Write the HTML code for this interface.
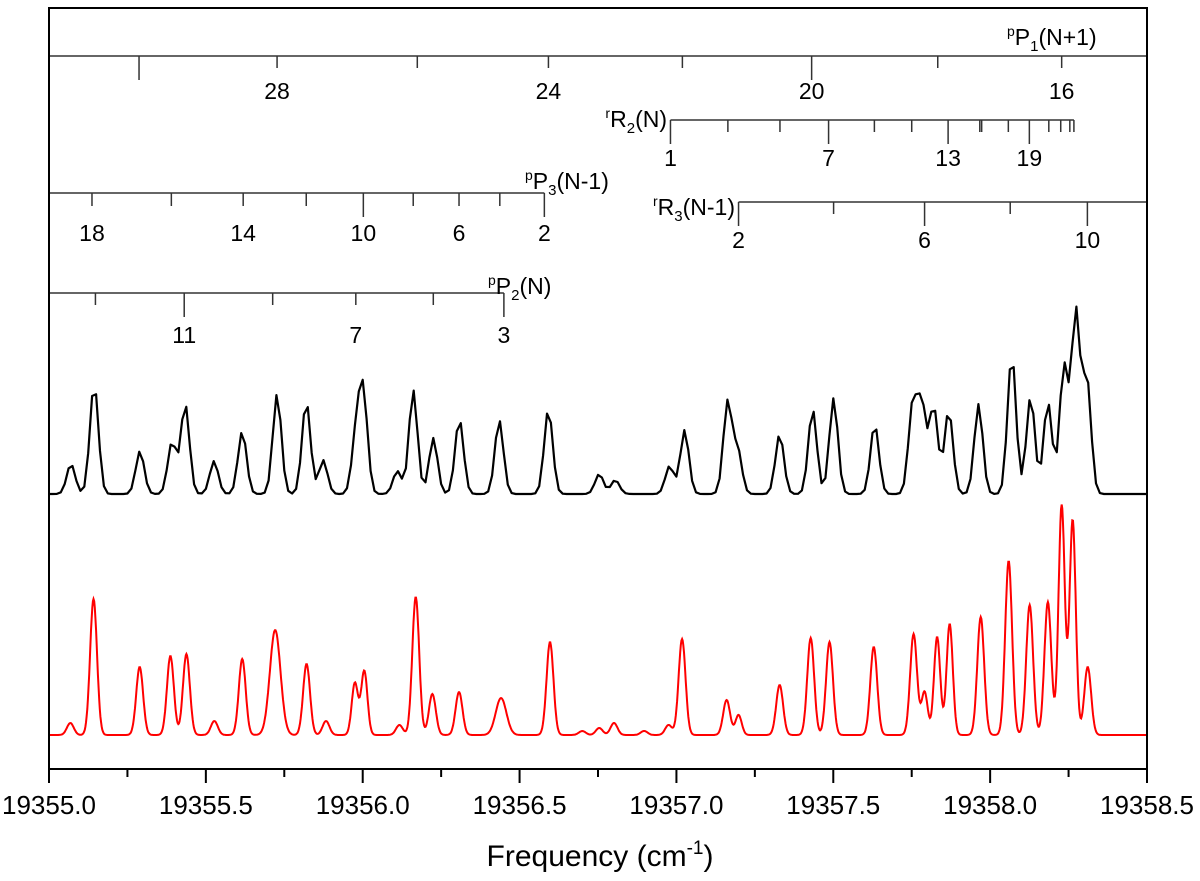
<!DOCTYPE html>
<html><head><meta charset="utf-8"><style>
html,body{margin:0;padding:0;background:#fff;}
svg{display:block;font-family:"Liberation Sans",Arial,sans-serif;}
</style></head><body>
<svg id="chart" width="1200" height="881" viewBox="0 0 1200 881" xmlns="http://www.w3.org/2000/svg">
<g id="ladders"></g>
<g id="traces"></g>
<rect x="49" y="8" width="1098" height="761" fill="none" stroke="#000" stroke-width="2"/>
<g id="xaxis"></g>
<text x="600" y="866" font-size="30" text-anchor="middle">Frequency (cm<tspan dy="-12" font-size="19">-1</tspan><tspan dy="12">)</tspan></text>
</svg>
<script>
// x-axis
const xMin = 19355.0, xMax = 19358.5;
const xTicks = [19355.0,19355.5,19356.0,19356.5,19357.0,19357.5,19358.0,19358.5];
const xTickLabels = ["19355.0","19355.5","19356.0","19356.5","19357.0","19357.5","19358.0","19358.5"];
const xMinorTicks = [19355.25,19355.75,19356.25,19356.75,19357.25,19357.75,19358.25];

// simulated (red) spectrum
const simCenters = [19355.068,19355.142,19355.289,19355.387,19355.438,19355.527,19355.616,19355.721,19355.821,19355.883,19355.975,19356.005,19356.117,19356.169,19356.222,19356.307,19356.441,19356.597,19356.700,19356.754,19356.801,19356.897,19356.975,19357.018,19357.160,19357.198,19357.329,19357.428,19357.488,19357.629,19357.756,19357.791,19357.831,19357.871,19357.970,19358.059,19358.126,19358.184,19358.228,19358.263,19358.311];
const simHeights = [12,136,68,79,81,14,76,105,71,14,52,64,10,138,41,43,37,93,4,7,12,4,10,96,35,20,50,97,93,88,101,43,98,111,118,174,130,133,230,215,68];
const simWidths  = [0.011,0.011,0.011,0.011,0.011,0.011,0.011,0.017,0.011,0.011,0.010,0.010,0.011,0.011,0.011,0.011,0.017,0.011,0.011,0.011,0.011,0.011,0.011,0.011,0.011,0.010,0.011,0.011,0.011,0.011,0.011,0.010,0.010,0.010,0.011,0.011,0.011,0.011,0.010,0.010,0.011];

// experimental (black) spectrum
const expCenters = [19355.070,19355.144,19355.290,19355.392,19355.434,19355.526,19355.616,19355.727,19355.820,19355.874,19355.979,19356.002,19356.110,19356.161,19356.225,19356.308,19356.435,19356.592,19356.754,19356.805,19356.978,19357.026,19357.163,19357.195,19357.329,19357.434,19357.501,19357.632,19357.753,19357.782,19357.820,19357.868,19357.963,19358.069,19358.129,19358.184,19358.235,19358.273,19358.308];
const expHeights = [30,110,43,52,90,33,63,100,93,34,58,98,23,104,56,75,74,85,20,14,28,64,92,44,60,85,96,70,88,88,88,84,90,140,98,92,128,182,115];

// assignment ladders
const p1Pos = [19355.287,19355.727,19356.174,19356.592,19357.019,19357.431,19357.833,19358.228];
const p1Labels = ["","28","","24","","20","","16"];
const p1Long = [1,0,0,0,0,1,0,0];
const r2Pos = [19356.981,19357.164,19357.330,19357.485,19357.631,19357.750,19357.866,19357.967,19357.973,19358.058,19358.125,19358.187,19358.225,19358.254,19358.267];
const r2Labels = ["1","","","7","","","13","","","","19","","","",""];
const r2Long = [1,0,0,1,0,0,1,0,0,0,1,0,0,0,0];
const p3Pos = [19355.137,19355.390,19355.619,19355.820,19356.002,19356.161,19356.307,19356.437,19356.579];
const p3Labels = ["18","","14","","10","","6","","2"];
const p3Long = [0,0,0,0,1,0,0,0,1];
const r3Pos = [19357.198,19357.501,19357.791,19358.064,19358.310];
const r3Labels = ["2","","6","","10"];
const r3Long = [1,0,1,0,1];
const p2Pos = [19355.148,19355.431,19355.713,19355.978,19356.225,19356.450];
const p2Labels = ["","11","","7","","3"];
const p2Long = [0,1,0,0,0,1];

const NS = "http://www.w3.org/2000/svg";
const X0 = 49, X1 = 1147;
function xs(v){ return X0 + (v - xMin) / (xMax - xMin) * (X1 - X0); }
function mk(tag, attrs, parent){ const e = document.createElementNS(NS, tag); for (const k in attrs) e.setAttribute(k, attrs[k]); parent.appendChild(e); return e; }

// axis
const xa = document.getElementById('xaxis');
xTicks.forEach((v,i)=>{
  const t = mk('line',{x1:xs(v),x2:xs(v),y1:769,y2:783,stroke:'#000','stroke-width':2},xa);
  
  
  const l = mk('text',{x:xs(v),y:814,'font-size':26,'text-anchor':'middle'},xa);
  l.textContent = xTickLabels[i];
  
  
});
xMinorTicks.forEach(v=>{
  const t = mk('line',{x1:xs(v),x2:xs(v),y1:769,y2:777,stroke:'#000','stroke-width':2},xa);
  
  
});

// traces
const tg = document.getElementById('traces');
function simY(f){ let s=0; for(let i=0;i<simCenters.length;i++){ const d=(f-simCenters[i])/simWidths[i]; s+=simHeights[i]*Math.exp(-0.5*d*d);} return 735 - s; }
function expY(f){ let s=0; for(let i=0;i<expCenters.length;i++){ const d=(f-expCenters[i])/0.0135; s+=expHeights[i]*Math.exp(-0.5*d*d);} return 494 - s; }
let dr='';
for(let f=xMin; f<=xMax+1e-9; f+=0.002){ dr += (dr?'L':'M') + xs(f).toFixed(1) + ',' + simY(f).toFixed(1); }
const red = mk('path',{d:dr,fill:'none',stroke:'#ff0000','stroke-width':2},tg);


let db='';
for(let f=xMin; f<=xMax+1e-9; f+=0.0125){ db += (db?'L':'M') + xs(f).toFixed(1) + ',' + expY(f).toFixed(1); }
const blk = mk('path',{d:db,fill:'none',stroke:'#000','stroke-width':2.2,'stroke-linejoin':'round'},tg);



// ladders
const lg = document.getElementById('ladders');
function ladder(name,pos,labels,longs,y,x1,x2,shortL,longL,labY){
  const g = mk('g',{},lg);
  
  
  mk('line',{x1:x1,x2:x2,y1:y,y2:y,stroke:'#333','stroke-width':1.5},g);
  pos.forEach((v,i)=>{
    const t = mk('line',{x1:xs(v),x2:xs(v),y1:y,y2:y+(longs[i]?longL:shortL),stroke:'#333','stroke-width':1.5},g);
    
    
    if(labels[i]){
      const l = mk('text',{x:xs(v),y:labY,'font-size':23,'text-anchor':'middle'},g);
      l.textContent = labels[i];
      
      
    }
  });
}
ladder('pp1-ladder',p1Pos,p1Labels,p1Long,56,49,1147,12,24,99);
ladder('rr2-ladder',r2Pos,r2Labels,r2Long,120,xs(r2Pos[0]),xs(r2Pos[r2Pos.length-1]),12,24,166);
ladder('pp3-ladder',p3Pos,p3Labels,p3Long,193,49,xs(p3Pos[p3Pos.length-1]),13,24,241);
ladder('rr3-ladder',r3Pos,r3Labels,r3Long,202,xs(r3Pos[0]),1147,12,24,248);
ladder('pp2-ladder',p2Pos,p2Labels,p2Long,293,49,xs(p2Pos[p2Pos.length-1]),12,24,343);

function branchLabel(name,x,y,anchor,sup,sub,tail){
  const t = mk('text',{x:x,y:y,'font-size':23,'text-anchor':anchor},lg);
  
  
  t.innerHTML = '<tspan font-size="14" dy="-9">'+sup+'</tspan><tspan dy="9">'+tail[0]+'</tspan>' + '<tspan font-size="15" dy="6">'+sub+'</tspan><tspan dy="-6">'+tail.slice(1)+'</tspan>';
}
branchLabel('pp1-label',1007,45,'start','p','1','P(N+1)');
branchLabel('rr2-label',667,127,'end','r','2','R(N)');
branchLabel('pp3-label',525,189,'start','p','3','P(N-1)');
branchLabel('rr3-label',735,215,'end','r','3','R(N-1)');
branchLabel('pp2-label',488,294,'start','p','2','P(N)');
</script>
</body></html>
